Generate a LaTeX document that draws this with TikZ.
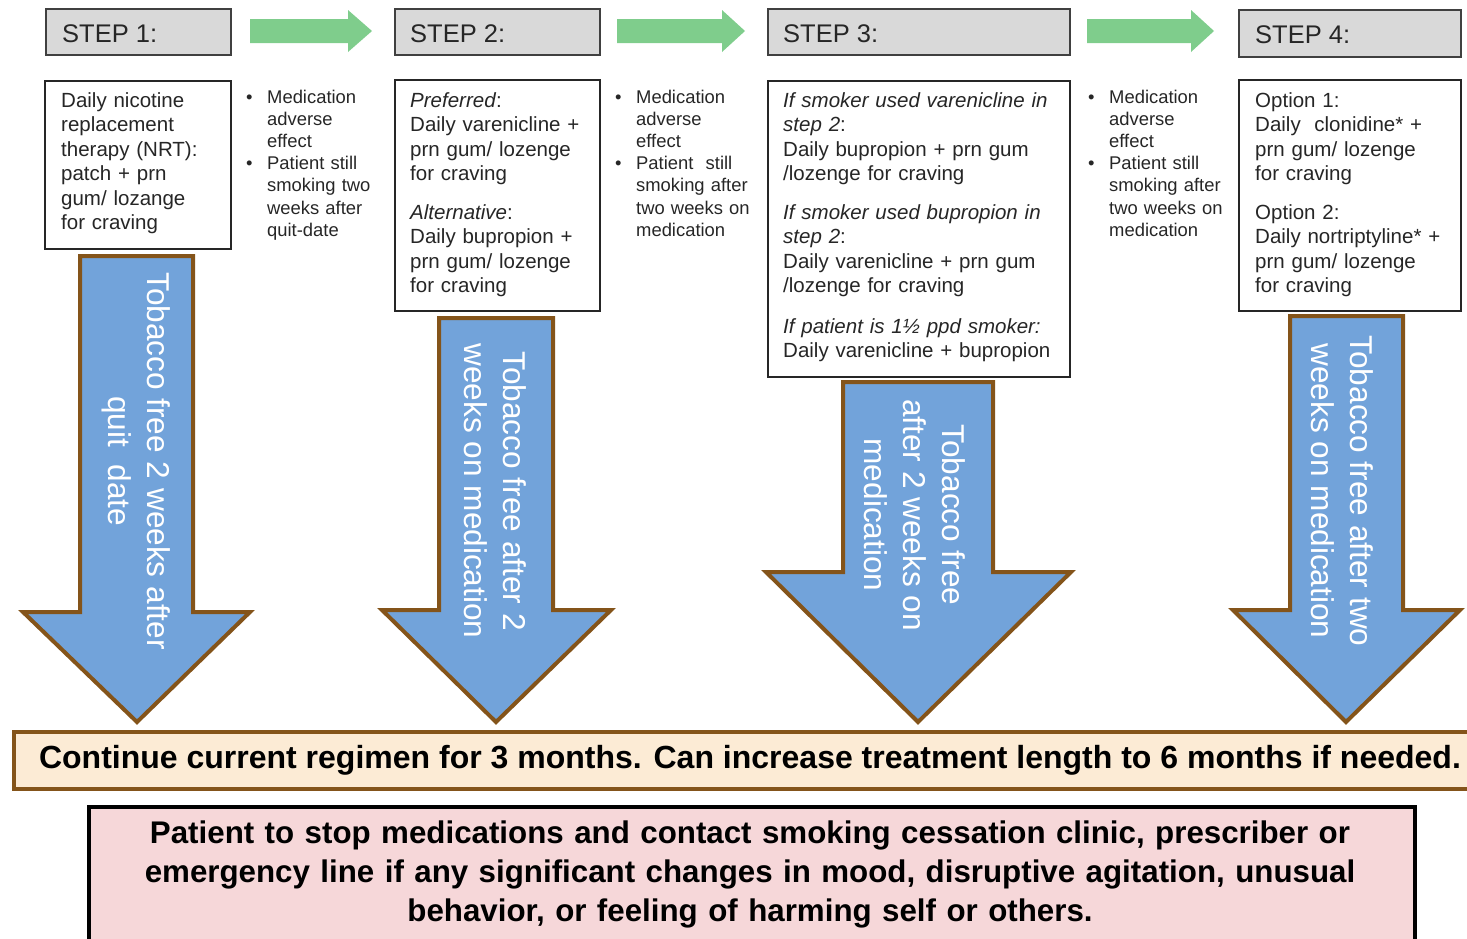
\documentclass[tikz,border=0pt]{standalone}
\usepackage{fontspec}
\setmainfont{Liberation Sans}
\definecolor{stepfill}{HTML}{D9D9D9}
\definecolor{stepborder}{HTML}{404040}
\definecolor{boxborder}{HTML}{262626}
\definecolor{txt}{HTML}{262626}
\definecolor{greenA}{RGB}{127,205,140}
\definecolor{blueA}{RGB}{114,163,218}
\definecolor{brownA}{RGB}{132,84,26}
\definecolor{peach}{RGB}{252,235,213}
\definecolor{pinkA}{RGB}{246,215,217}
\begin{document}
\begin{tikzpicture}[x=1pt,y=-1pt,
  stepbox/.style={draw=stepborder, line width=2.2pt, fill=stepfill, anchor=north west, inner sep=0pt},
  steplabel/.style={anchor=base west, inner sep=0pt, text=txt, font=\fontsize{25.5pt}{30pt}\selectfont},
  cbox/.style={draw=boxborder, line width=1.8pt, fill=white, anchor=north west, inner sep=0pt},
  boxtext/.style={anchor=base west, inner sep=0pt, text=txt, align=left, font=\fontsize{20.5pt}{24.5pt}\selectfont},
  bullettext/.style={anchor=base west, inner sep=0pt, text=txt, align=left, font=\fontsize{18.4pt}{22.2pt}\selectfont},
  bulletdot/.style={anchor=base west, inner sep=0pt, text=txt, font=\fontsize{18.4pt}{22.2pt}\selectfont},
  greenarrow/.style={fill=greenA},
  bluearrow/.style={fill=blueA, draw=brownA, line width=4pt, line join=miter},
  arrowtext/.style={rotate=-90, text=white, align=center, inner sep=0pt, font=\fontsize{31.6pt}{39pt}\selectfont},
  bandone/.style={draw=brownA, line width=3.5pt, fill=peach, anchor=north west, inner sep=0pt},
  bandtwo/.style={draw=black, line width=3.5pt, fill=pinkA, anchor=north west, inner sep=0pt},
  bandtext/.style={text=black, inner sep=0pt, align=center, font=\fontsize{32pt}{39pt}\selectfont\bfseries},
  bandtextb/.style={text=black, inner sep=0pt, align=center, font=\fontsize{31.3pt}{39pt}\selectfont\bfseries}
]
\useasboundingbox (0,0) rectangle (1467,938);

% step header boxes
\node[stepbox, minimum width=185pt, minimum height=46pt] (s1) at (45,8) {};
\node[stepbox, minimum width=205pt, minimum height=46pt] (s2) at (394,8) {};
\node[stepbox, minimum width=302pt, minimum height=46pt] (s3) at (767,8) {};
\node[stepbox, minimum width=222pt, minimum height=47pt] (s4) at (1238,9) {};
\node[steplabel] (s1t) at (62,42) {STEP 1:};
\node[steplabel] (s2t) at (410,42) {STEP 2:};
\node[steplabel] (s3t) at (783,42) {STEP 3:};
\node[steplabel] (s4t) at (1255,43) {STEP 4:};

% green arrows
\fill[greenarrow] (250,19) -- (348,19) -- (348,10) -- (372,31) -- (348,52) -- (348,43) -- (250,43) -- cycle;
\fill[greenarrow] (617,19) -- (722,19) -- (722,10) -- (745,31) -- (722,52) -- (722,43) -- (617,43) -- cycle;
\fill[greenarrow] (1087,19) -- (1191,19) -- (1191,10) -- (1214,31) -- (1191,52) -- (1191,43) -- (1087,43) -- cycle;

% content boxes
\node[cbox, minimum width=186pt, minimum height=168pt] (b1) at (44,80) {};
\node[cbox, minimum width=205pt, minimum height=231pt] (b2) at (394,79) {};
\node[cbox, minimum width=302pt, minimum height=296pt] (b3) at (767,80) {};
\node[cbox, minimum width=222pt, minimum height=231pt] (b4) at (1238,79) {};

\node[boxtext, text width=170pt] (b1t) at (61,107) {Daily nicotine\\replacement\\therapy (NRT):\\patch + prn\\gum/ lozange\\for craving};
\node[boxtext, text width=190pt] (b2t) at (410,107) {\textit{Preferred}:\\Daily varenicline +\\prn gum/ lozenge\\for craving\\[14pt]\textit{Alternative}:\\Daily bupropion +\\prn gum/ lozenge\\for craving};
\node[boxtext, text width=290pt] (b3t) at (783,107) {\textit{If smoker used varenicline in}\\\textit{step 2}:\\Daily bupropion + prn gum\\/lozenge for craving\\[14pt]\textit{If smoker used bupropion in}\\\textit{step 2}:\\Daily varenicline + prn gum\\/lozenge for craving\\[16pt]\textit{If patient is 1½ ppd smoker:}\\Daily varenicline + bupropion};
\node[boxtext, text width=205pt] (b4t) at (1255,107) {Option 1:\\Daily\ \ clonidine* +\\prn gum/ lozenge\\for craving\\[14pt]Option 2:\\Daily nortriptyline* +\\prn gum/ lozenge\\for craving};

% bullet lists
\node[bulletdot] (d1a) at (246,103) {•};
\node[bulletdot] (d1b) at (246,169.6) {•};
\node[bullettext, text width=110pt] (l1) at (267,103) {Medication\\adverse\\effect\\Patient still\\smoking two\\weeks after\\quit-date};
\node[bulletdot] (d2a) at (615,103) {•};
\node[bulletdot] (d2b) at (615,169.6) {•};
\node[bullettext, text width=120pt] (l2) at (636,103) {Medication\\adverse\\effect\\Patient\ \ still\\smoking after\\two weeks on\\medication};
\node[bulletdot] (d3a) at (1088,103) {•};
\node[bulletdot] (d3b) at (1088,169.6) {•};
\node[bullettext, text width=120pt] (l3) at (1109,103) {Medication\\adverse\\effect\\Patient still\\smoking after\\two weeks on\\medication};

% blue down arrows
\draw[bluearrow] (80,256) -- (193,256) -- (193,612) -- (250,612) -- (137,722) -- (23,612) -- (80,612) -- cycle;
\draw[bluearrow] (439,318) -- (553,318) -- (553,610) -- (611,610) -- (496,722) -- (382,610) -- (439,610) -- cycle;
\draw[bluearrow] (843,382) -- (993,382) -- (993,572) -- (1071,572) -- (918,722) -- (766,572) -- (843,572) -- cycle;
\draw[bluearrow] (1290,316) -- (1403,316) -- (1403,610) -- (1460,610) -- (1346,722) -- (1233,610) -- (1290,610) -- cycle;

\node[arrowtext] (a1t) at (136,461) {Tobacco free 2 weeks after\\quit\ \ date};
\node[arrowtext] (a2t) at (495,491) {Tobacco free after 2\\weeks on medication};
\node[arrowtext] (a3t) at (915,515) {Tobacco free\\after 2 weeks on\\medication};
\node[arrowtext] (a4t) at (1342,491) {Tobacco free after two\\weeks on medication};

% bottom bands
\node[bandone, minimum width=1470pt, minimum height=57pt] (band1) at (12,730) {};
\node[bandtext, anchor=base] (band1t) at (750,768) {Continue current regimen for 3 months. Can increase treatment length to 6 months if needed.};
\node[bandtwo, minimum width=1326pt, minimum height=150pt] (band2) at (87,805) {};
\node[bandtextb, anchor=base, text width=1300pt] (band2t) at (750,843) {Patient to stop medications and contact smoking cessation clinic, prescriber or\\emergency line if any significant changes in mood, disruptive agitation, unusual\\behavior, or feeling of harming self or others.};
\end{tikzpicture}
\end{document}
